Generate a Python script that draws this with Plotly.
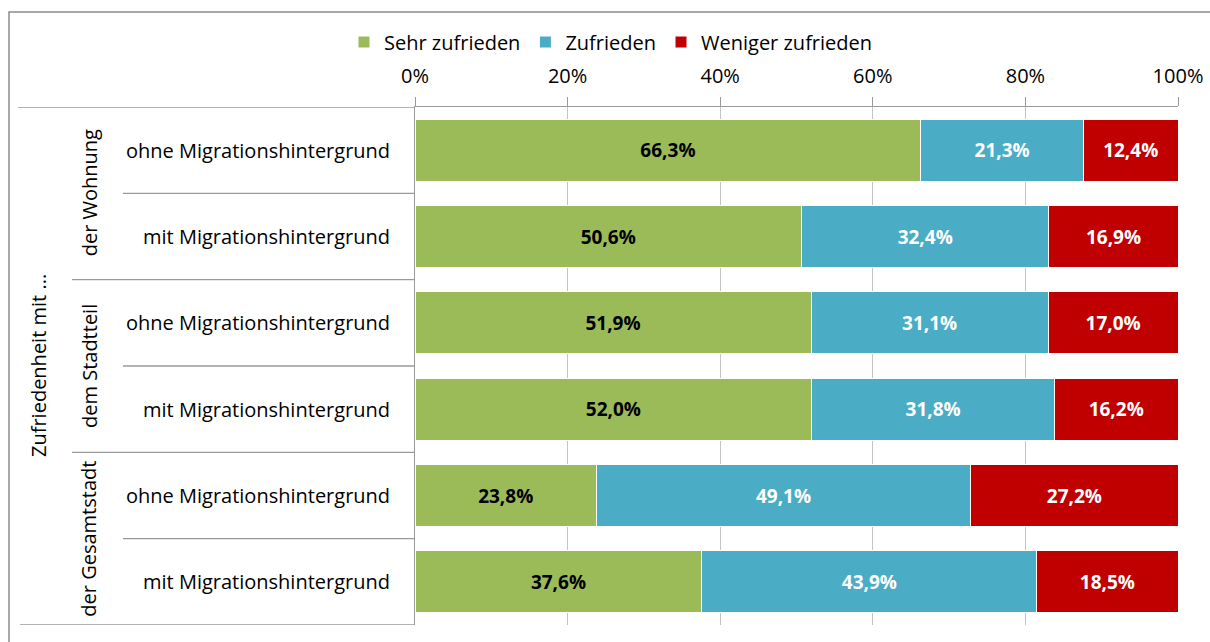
import plotly.graph_objects as go

# ---- data ----
groups = ["der Wohnung", "dem Stadtteil", "der Gesamtstadt"]
subs = ["ohne Migrationshintergrund", "mit Migrationshintergrund"]
outer_label = "Zufriedenheit mit ..."
series_names = ["Sehr zufrieden", "Zufrieden", "Weniger zufrieden"]
sehr = [66.3, 50.6, 51.9, 52.0, 23.8, 37.6]
zufr = [21.3, 32.4, 31.1, 31.8, 49.1, 43.9]
weniger = [12.4, 16.9, 17.0, 16.2, 27.2, 18.5]
tick_vals = [0, 20, 40, 60, 80, 100]
tick_text = ["0%", "20%", "40%", "60%", "80%", "100%"]

colors = ["#9BBB59", "#4BACC6", "#C00000"]
text_colors = ["#000000", "#FFFFFF", "#FFFFFF"]

W, H = 1210, 642
L, R, T, B = 415, 1178, 107, 625
FONT = "Open Sans"
LINE = "#9A9A9A"
GRID = "#C4C4C4"


def px(x):
    return (x - L) / (R - L)


def py(y):
    return (B - y) / (B - T)


rows = [f"{g} | {s}" for g in groups for s in subs]


def fmt(v):
    return f"{v:.1f}%".replace(".", ",")


fig = go.Figure()
for name, vals, col, tcol in zip(series_names, [sehr, zufr, weniger], colors, text_colors):
    fig.add_trace(go.Bar(
        name=name, y=rows, x=vals, orientation="h",
        marker=dict(color=col, line=dict(color="white", width=1)),
        text=[fmt(v) for v in vals], textposition="inside",
        insidetextanchor="middle", textangle=0, constraintext="none",
        textfont=dict(family=FONT, size=19, color=tcol, weight="bold"),
        width=0.72, hoverinfo="skip",
    ))

shapes = []
# outer border
shapes.append(dict(type="rect", xref="paper", yref="paper",
                   x0=px(9), x1=px(1240), y0=py(690), y1=py(12),
                   line=dict(color="#8C8C8C", width=1.5), fillcolor="rgba(0,0,0,0)", layer="below"))
# category separators
sep_starts = {-0.5: 18, 0.5: 123, 1.5: 72, 2.5: 123, 3.5: 72, 4.5: 123, 5.5: 20}
for yv, x0 in sep_starts.items():
    shapes.append(dict(type="line", xref="paper", yref="y", x0=px(x0), x1=0,
                       y0=yv, y1=yv, line=dict(color=LINE, width=1.3)))

annotations = []
for i, r in enumerate(rows):
    annotations.append(dict(xref="paper", yref="y", x=px(392), y=i, xanchor="right",
                            yanchor="middle", text=subs[i % 2], showarrow=False,
                            font=dict(family=FONT, size=20, color="#000000")))
for gi, g in enumerate(groups):
    annotations.append(dict(xref="paper", yref="y", x=px(89), y=gi * 2 + 0.5,
                            xanchor="center", yanchor="middle", text=g, textangle=-90,
                            showarrow=False, font=dict(family=FONT, size=20, color="#000000")))
annotations.append(dict(xref="paper", yref="y", x=px(38), y=2.5, xanchor="center",
                        yanchor="middle", text=outer_label, textangle=-90, showarrow=False,
                        font=dict(family=FONT, size=20, color="#000000")))

fig.update_layout(
    width=W, height=H, autosize=False,
    margin=dict(l=L, r=W - R, t=T, b=H - B, pad=0, autoexpand=False),
    paper_bgcolor="white", plot_bgcolor="white",
    barmode="stack", barnorm="percent",
    font=dict(family=FONT, size=20, color="#000000"),
    showlegend=True,
    legend=dict(orientation="h", x=px(611), xanchor="center", y=py(42), yanchor="middle",
                font=dict(family=FONT, size=20, color="#000000"), traceorder="normal",
                bgcolor="rgba(0,0,0,0)"),
    xaxis=dict(side="top", range=[0, 100], tickvals=tick_vals, ticktext=tick_text,
               showgrid=True, gridcolor=GRID, gridwidth=1.3, zeroline=False,
               showline=True, linecolor=LINE, linewidth=1.3,
               ticks="outside", ticklen=9, tickcolor=LINE, tickwidth=1.3,
               ticklabelstandoff=6, automargin=False,
               tickfont=dict(family=FONT, size=20, color="#000000"), fixedrange=True),
    yaxis=dict(type="category", categoryorder="array", categoryarray=rows,
               range=[5.5, -0.5], showticklabels=False, showgrid=False, zeroline=False,
               showline=True, linecolor=LINE, linewidth=1.3, ticks="", fixedrange=True,
               automargin=False),
    shapes=shapes, annotations=annotations,
)

fig.write_html(
    "out.html",
    config={"displayModeBar": False},
    post_script="document.body.style.margin='0';document.body.style.overflow='hidden';",
)
